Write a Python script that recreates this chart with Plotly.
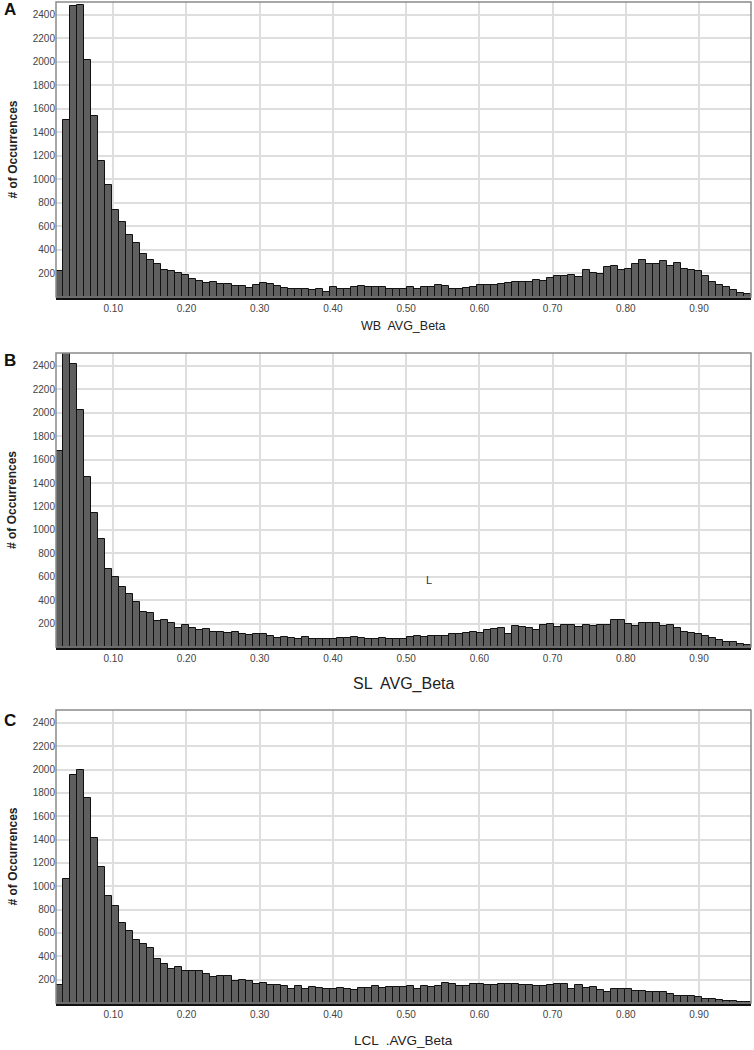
import plotly.graph_objects as go

# ---- data ----
X_MIN = 0.0218
X_MAX = 0.971
N_BINS = 99

counts_A = [225, 1505, 2475, 2487, 2016, 1542, 1156, 957, 739, 640, 527, 461, 370, 313, 280, 234, 223, 206, 183, 155,
            138, 121, 129, 109, 109, 92, 92, 75, 104,
            115, 109, 92, 73, 70, 70, 70, 58, 64, 44, 81, 64, 70, 81, 92, 87, 87, 81, 70, 70, 64,
            81, 64, 87, 81, 101, 92, 70, 70, 75, 81, 98, 98, 98, 109, 115, 129, 125, 129, 143, 135,
            158, 177, 177, 183, 172, 228, 206, 194, 257, 262, 234, 240, 285, 319, 279, 279, 308, 268, 291, 240,
            230, 223, 177, 129, 101, 87, 58, 38, 24]

counts_B = [1672, 2600, 2417, 2027, 1450, 1146, 918, 668, 600, 512, 455, 381, 301, 290, 222, 233, 205, 165, 188, 159,
            148, 154, 125, 125, 119, 125, 108, 100, 108,
            114, 97, 80, 85, 80, 71, 85, 71, 65, 71, 71, 80, 77, 85, 74, 65, 71, 80, 65, 65, 71,
            85, 97, 88, 91, 94, 97, 108, 114, 117, 131, 119, 142, 154, 159, 114, 176, 170, 165, 148, 188,
            199, 171, 188, 188, 171, 188, 180, 188, 188, 227, 227, 193, 179, 205, 205, 205, 179, 188, 159, 131,
            120, 108, 94, 80, 57, 43, 43, 23, 15]

counts_C = [157, 1063, 1955, 1998, 1756, 1414, 1169, 915, 835, 687, 616, 542, 502, 473, 376, 336, 294, 308, 274, 274,
            274, 245, 222, 234, 228, 188, 200, 188, 160,
            171, 151, 151, 143, 120, 143, 120, 137, 131, 120, 120, 125, 120, 114, 131, 125, 143, 131, 137, 137,
            137, 143, 123, 143, 137, 143, 171, 160, 148, 148, 160, 160, 151, 154, 160, 165, 160, 155, 151, 148,
            148, 154, 160, 165, 120, 151, 131, 137, 108, 94, 123, 117, 117, 103, 103, 91, 91, 94, 80, 60,
            60, 60, 51, 34, 34, 28, 20, 14, 8, 6]

panel_letters = ["A", "B", "C"]
axis_titles = ["WB  AVG_Beta", "SL  AVG_Beta", "LCL  .AVG_Beta"]
y_title = "# of Occurrences"
y_ticks = [200, 400, 600, 800, 1000, 1200, 1400, 1600, 1800, 2000, 2200, 2400]
x_ticks = [0.10, 0.20, 0.30, 0.40, 0.50, 0.60, 0.70, 0.80, 0.90]

# ---- layout geometry (pixels) ----
W, H = 754, 1050
PX_L, PX_R = 56, 751
panels_px = [(2, 297), (353, 647), (710, 1003)]   # (top, bottom)
title_px = [(326, 12.5), (684, 16), (1040, 13.5)]
letter_px = [10, 360, 720]

bin_w = (X_MAX - X_MIN) / N_BINS
centers = [X_MIN + (k + 0.5) * bin_w for k in range(N_BINS)]

fig = go.Figure()
all_counts = [counts_A, counts_B, counts_C]
FONT = "Liberation Sans, Arial, sans-serif"

annotations = []
shapes = []
for i, cnts in enumerate(all_counts):
    ax = "" if i == 0 else str(i + 1)
    fig.add_trace(go.Bar(
        x=centers, y=cnts, width=bin_w,
        marker=dict(color="#5f5f5f", line=dict(color="#111111", width=1)),
        xaxis="x" + ax, yaxis="y" + ax, showlegend=False, hoverinfo="x+y"))
    top, bot = panels_px[i]
    ydom = [1 - bot / H, 1 - top / H]
    xdom = [PX_L / W, PX_R / W]
    fig.update_layout(**{
        "xaxis" + ax: dict(domain=xdom, range=[X_MIN, X_MAX], anchor="y" + ax,
                           tickvals=x_ticks, tickformat=".2f", ticks="", automargin=False,
                           showgrid=True, gridcolor="#dedede", gridwidth=1.5,
                           showline=True, linecolor="#111111", linewidth=2.5,
                           zeroline=False, tickfont=dict(family=FONT, size=10, color="#444444")),
        "yaxis" + ax: dict(domain=ydom, range=[0, 2510], anchor="x" + ax,
                           tickvals=y_ticks, ticks="", automargin=False,
                           showgrid=True, gridcolor="#dedede", gridwidth=1.5,
                           showline=False, zeroline=False,
                           tickfont=dict(family=FONT, size=10, color="#444444")),
    })
    # frame
    shapes.append(dict(type="rect", xref="x" + ax + " domain", yref="y" + ax + " domain",
                       x0=0, x1=1, y0=0, y1=1, line=dict(color="#8a8a8a", width=1.5),
                       fillcolor="rgba(0,0,0,0)", layer="above"))
    # axis title
    ty, tsize = title_px[i]
    annotations.append(dict(text=axis_titles[i], x=(PX_L + PX_R) / 2 / W, y=1 - ty / H,
                            xref="paper", yref="paper", showarrow=False,
                            font=dict(family=FONT, size=tsize, color="#222222"),
                            xanchor="center", yanchor="middle"))
    # panel letter
    annotations.append(dict(text="<b>" + panel_letters[i] + "</b>", x=10 / W, y=1 - letter_px[i] / H,
                            xref="paper", yref="paper", showarrow=False,
                            font=dict(family=FONT, size=17, color="#111111"),
                            xanchor="center", yanchor="middle"))
    # y title
    annotations.append(dict(text="<b>" + y_title + "</b>", x=12 / W, y=1 - (top + bot) / 2 / H,
                            xref="paper", yref="paper", showarrow=False, textangle=-90,
                            font=dict(family=FONT, size=12, color="#222222"),
                            xanchor="center", yanchor="middle"))

# stray "L" mark in panel B
annotations.append(dict(text="L", x=429 / W, y=1 - 580 / H, xref="paper", yref="paper",
                        showarrow=False, font=dict(family=FONT, size=11, color="#333333"),
                        xanchor="center", yanchor="middle"))

fig.update_layout(width=W, height=H, margin=dict(l=0, r=0, t=0, b=0, autoexpand=False),
                  paper_bgcolor="white", plot_bgcolor="white", bargap=0,
                  annotations=annotations, shapes=shapes, showlegend=False)

fig.write_html("out.html", config={"displayModeBar": False},
               post_script="document.body.style.margin='0';document.body.style.overflow='hidden';"
                           "document.documentElement.style.overflow='hidden';")
